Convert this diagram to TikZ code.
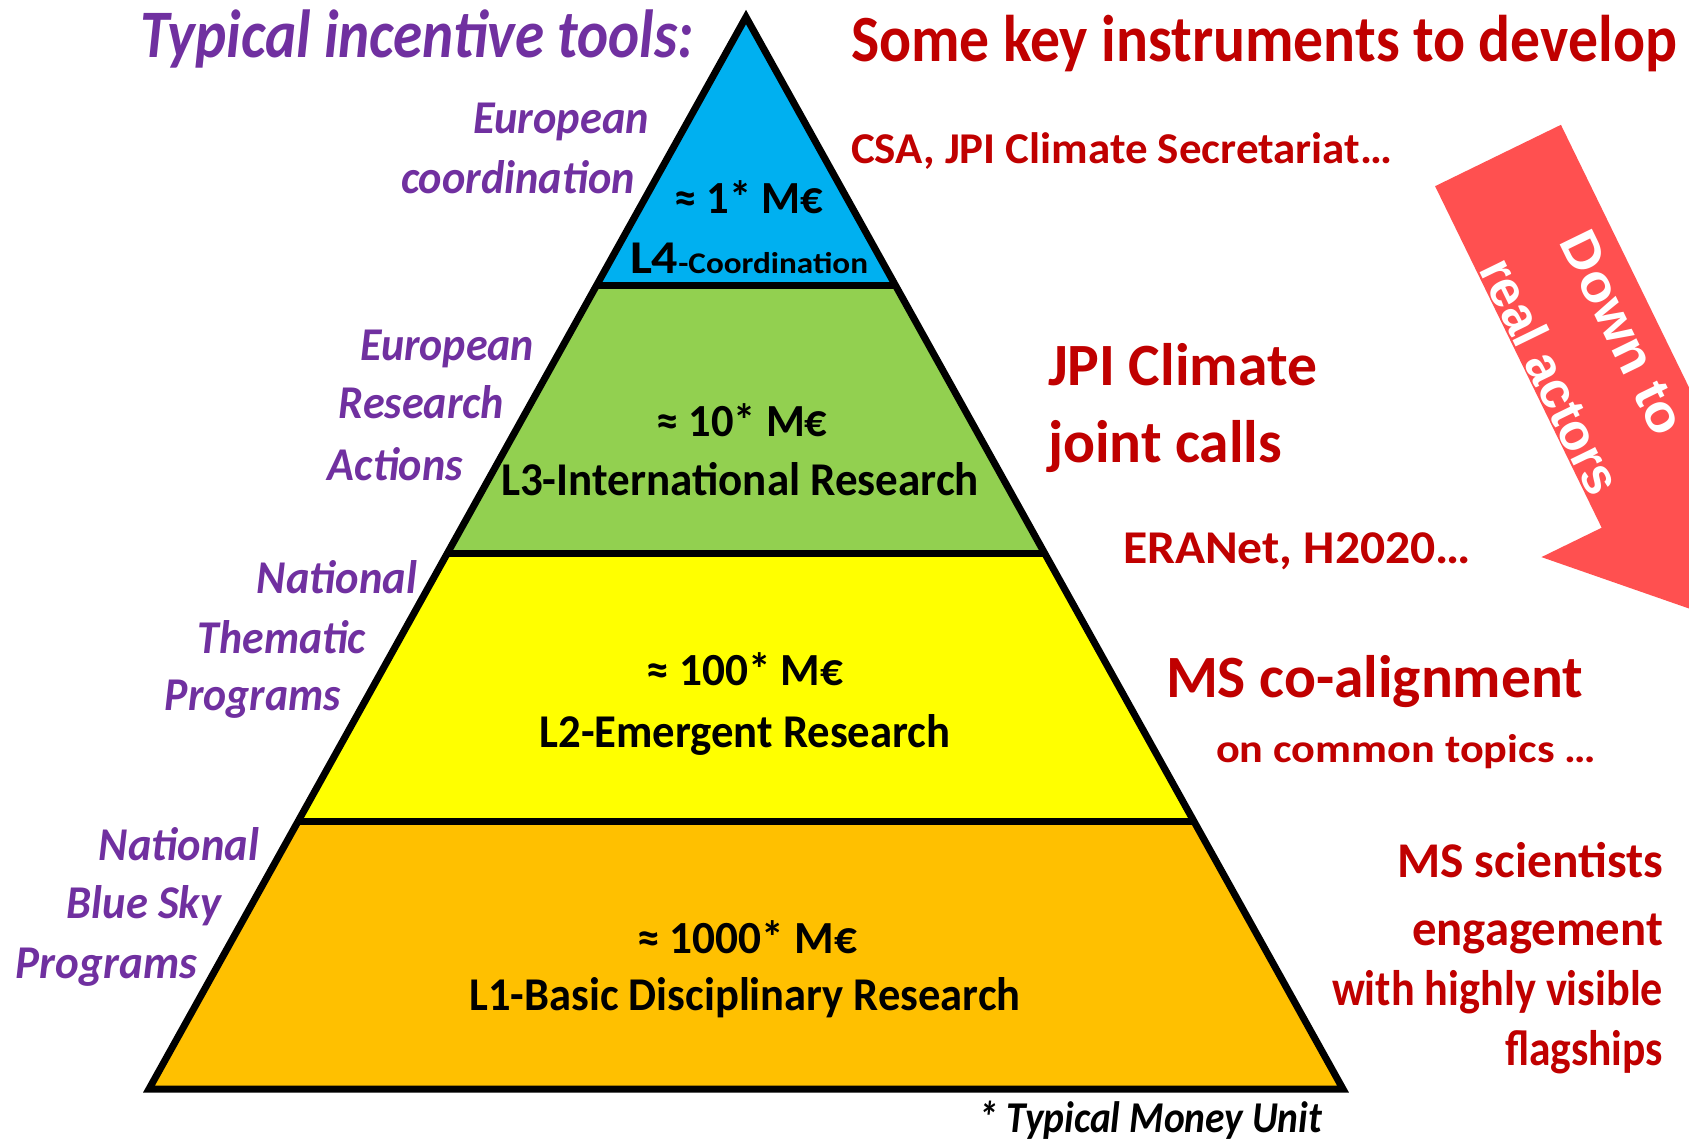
\documentclass[tikz,border=0pt]{standalone}
\usepackage{fontspec}
\usepackage{graphicx}
\setmainfont{Carlito}
\newfontfamily\arialf{Liberation Sans}
\usetikzlibrary{calc}
\definecolor{purp}{HTML}{7030A0}
\definecolor{darkred}{HTML}{C00000}
\definecolor{cblue}{HTML}{00B0F0}
\definecolor{cgreen}{HTML}{92D050}
\definecolor{cyellow}{HTML}{FFFF00}
\definecolor{corange}{HTML}{FFC000}
\definecolor{arrowred}{HTML}{FF5050}
\newcommand{\fw}[2]{\resizebox{#1pt}{\height}{#2}}
\newcommand{\fs}[1]{\fontsize{#1}{#1}\selectfont}
\begin{document}
\begin{tikzpicture}[x=1pt,y=1pt,
  lbl/.style={inner sep=0pt, outer sep=0pt},
  purtxt/.style={lbl,text=purp,font=\bfseries\itshape},
  redtxt/.style={lbl,text=darkred,font=\bfseries},
  blktxt/.style={lbl,text=black,font=\bfseries},
  arrtxt/.style={lbl,text=white,font=\arialf\bfseries,rotate=-64},
  edge/.style={line width=7pt, line join=miter}]
\useasboundingbox[fill=white] (0,0) rectangle (1689,-1140);

% arrow
\begin{scope}
\clip (0,0) rectangle (1689,-1140);
\fill[arrowred, shift={(1498,-155.5)}, rotate=-64]
  (0,70) -- (380,70) -- (380,137) -- (518,0) -- (380,-137) -- (380,-70) -- (0,-70) -- cycle;
\end{scope}
\node[arrtxt] (dn1) at (1623,-333) {\fs{52}\fw{220}{Down to}};
\node[arrtxt] (dn2) at (1551,-376) {\fs{52}\fw{256}{real actors}};

% pyramid
\coordinate (A) at (746,-17);
\coordinate (BL) at (149,-1089);
\coordinate (BR) at (1343,-1089);
\coordinate (L1) at ($(A)!0.25!(BL)$);
\coordinate (R1) at ($(A)!0.25!(BR)$);
\coordinate (L2) at ($(A)!0.5!(BL)$);
\coordinate (R2) at ($(A)!0.5!(BR)$);
\coordinate (L3) at ($(A)!0.75!(BL)$);
\coordinate (R3) at ($(A)!0.75!(BR)$);
\fill[cblue] (A) -- (R1) -- (L1) -- cycle;
\fill[cgreen] (L1) -- (R1) -- (R2) -- (L2) -- cycle;
\fill[cyellow] (L2) -- (R2) -- (R3) -- (L3) -- cycle;
\fill[corange] (L3) -- (R3) -- (BR) -- (BL) -- cycle;
\draw[edge] (L1) -- (R1);
\draw[edge] (L2) -- (R2);
\draw[edge] (L3) -- (R3);
\draw[edge] (A) -- (BR) -- (BL) -- cycle;

% pyramid texts
\node[blktxt, anchor=base] (m4) at (749,-213) {\fs{46}\fw{149}{≈ 1* M€}};
\node[blktxt, anchor=base west] (l4) at (630,-273) {\fw{238}{\fs{47}L4\fs{30}-Coordination}};
\node[blktxt, anchor=base] (m3) at (742,-436) {\fs{46}\fw{171}{≈ 10* M€}};
\node[blktxt, anchor=base] (l3) at (740,-495) {\fs{47}\fw{478}{L3-International Research}};
\node[blktxt, anchor=base] (m2) at (745,-685) {\fs{46}\fw{197}{≈ 100* M€}};
\node[blktxt, anchor=base] (l2) at (745,-747) {\fs{47}\fw{411}{L2-Emergent Research}};
\node[blktxt, anchor=base] (m1) at (747,-953) {\fs{46}\fw{220}{≈ 1000* M€}};
\node[blktxt, anchor=base] (l1) at (745,-1010) {\fs{47}\fw{551}{L1-Basic Disciplinary Research}};
\node[blktxt, anchor=base west, font=\bfseries\itshape] (tmu) at (978,-1132) {\fs{44}\fw{344}{* Typical Money Unit}};

% left purple texts
\node[purtxt, anchor=base west] (t1) at (140,-58) {\fs{68}\fw{554}{Typical incentive tools:}};
\node[purtxt, anchor=base east] (e1) at (649,-133) {\fs{47}\fw{176}{European}};
\node[purtxt, anchor=base east] (e2) at (635,-193) {\fs{47}\fw{234}{coordination}};
\node[purtxt, anchor=base east] (r1) at (534,-360) {\fs{47}\fw{174}{European}};
\node[purtxt, anchor=base east] (r2) at (504,-418) {\fs{47}\fw{165}{Research}};
\node[purtxt, anchor=base east] (r3) at (463,-480) {\fs{47}\fw{135}{Actions}};
\node[purtxt, anchor=base east] (n1) at (417,-593) {\fs{47}\fw{160}{National}};
\node[purtxt, anchor=base east] (n2) at (366,-653) {\fs{47}\fw{168}{Thematic}};
\node[purtxt, anchor=base east] (n3) at (341,-710) {\fs{47}\fw{176}{Programs}};
\node[purtxt, anchor=base east] (b1) at (259,-860) {\fs{47}\fw{160}{National}};
\node[purtxt, anchor=base east] (b2) at (221,-918) {\fs{47}\fw{154}{Blue Sky}};
\node[purtxt, anchor=base east] (b3) at (197,-978) {\fs{47}\fw{181}{Programs}};

% right red texts
\node[redtxt, anchor=base west] (s0) at (851,-62) {\fs{66}\fw{826}{Some key instruments to develop}};
\node[redtxt, anchor=base west] (csa) at (851,-163) {\fs{44}\fw{541}{CSA, JPI Climate Secretariat…}};
\node[redtxt, anchor=base west] (jpi1) at (1048,-385) {\fs{60}\fw{269}{JPI Climate}};
\node[redtxt, anchor=base west] (jpi2) at (1048,-462) {\fs{60}\fw{234}{joint calls}};
\node[redtxt, anchor=base west] (era) at (1123,-563) {\fs{47}\fw{348}{ERANet, H2020…}};
\node[redtxt, anchor=base west] (msc) at (1166,-697) {\fs{60}\fw{417}{MS co-alignment}};
\node[redtxt, anchor=base west] (oct) at (1216,-762) {\fs{40}\fw{380}{on common topics …}};
\node[redtxt, anchor=base east] (sc1) at (1663,-877) {\fs{50}\fw{266}{MS scientists}};
\node[redtxt, anchor=base east] (sc2) at (1663,-945) {\fs{50}\fw{251}{engagement}};
\node[redtxt, anchor=base east] (sc3) at (1663,-1005) {\fs{50}\fw{331}{with highly visible}};
\node[redtxt, anchor=base east] (sc4) at (1663,-1065) {\fs{50}\fw{158}{flagships}};
\end{tikzpicture}
\end{document}
